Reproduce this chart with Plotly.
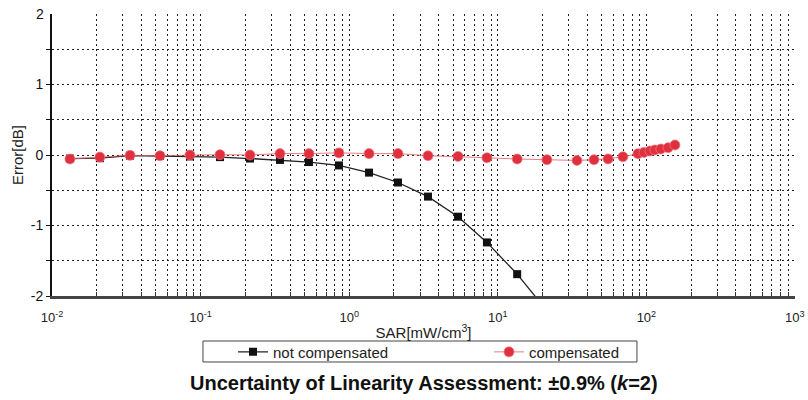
import plotly.graph_objects as go

# SAR levels (mW/cm^3) and linearity error (dB)
sar = [0.0132, 0.021, 0.0335, 0.0533, 0.0848, 0.135, 0.215, 0.342, 0.536, 0.853,
       1.36, 2.13, 3.39, 5.4, 8.45, 13.5, 21.4, 34.1, 44.4, 55.2, 69.5, 87.8,
       96.3, 105.7, 114, 125, 140, 155.6]

err_not_comp = [-0.05, -0.045, -0.01, -0.015, -0.02, -0.03, -0.05, -0.07, -0.1, -0.148,
                -0.25, -0.39, -0.59, -0.875, -1.24, -1.69, -2.21]

err_comp = [-0.057, -0.03, -0.005, -0.01, 0.0, 0.005, 0.0, 0.02, 0.02, 0.03,
            0.02, 0.02, -0.01, -0.02, -0.04, -0.057, -0.067, -0.077, -0.067, -0.055,
            -0.025, 0.019, 0.037, 0.057, 0.071, 0.085, 0.104, 0.142]

decades = [0.01, 0.1, 1, 10, 100]
decade_labels = ["10<sup>-2</sup>", "10<sup>-1</sup>", "10<sup>0</sup>", "10<sup>1</sup>", "10<sup>2</sup>"]
top_decade_label = "10<sup>3</sup>"
y_ticks = [-2, -1.5, -1, -0.5, 0, 0.5, 1, 1.5]
y_labels = ["-2", "", "-1", "", "0", "", "1", ""]
y_top_label = "2"

FONT = "Liberation Sans, Arial, sans-serif"
DOTS = "2px,3px"

# log grid: every integer multiple within each decade
x_grid, x_text = [], []
for d, lab in zip(decades, decade_labels):
    for m in range(1, 10):
        x_grid.append(d * m)
        x_text.append(lab if m == 1 else "")

fig = go.Figure()

fig.add_trace(go.Scatter(
    x=sar[:len(err_not_comp)], y=err_not_comp, mode="lines+markers",
    name="not compensated",
    line=dict(color="#222222", width=1.3),
    marker=dict(symbol="square", size=8, color="#111111"),
))
fig.add_trace(go.Scatter(
    x=sar, y=err_comp, mode="lines+markers",
    name="compensated",
    line=dict(color="rgba(228,90,100,0.8)", width=1),
    marker=dict(symbol="circle", size=10, color="#e0303e",
                line=dict(color="rgba(240,120,130,0.7)", width=1)),
))

fig.update_layout(
    width=808, height=400,
    margin=dict(l=52, r=13, t=14, b=104),
    paper_bgcolor="white", plot_bgcolor="white",
    font=dict(family=FONT, color="#222222", size=12),
    showlegend=True,
    legend=dict(
        orientation="h", x=0.2436, xanchor="left", y=-0.199, yanchor="middle",
        borderwidth=0, bgcolor="rgba(0,0,0,0)",
        font=dict(family=FONT, size=15, color="#222222"),
        entrywidth=211, itemwidth=30,
    ),
    xaxis=dict(
        type="log", range=[-2, 3],
        tickvals=x_grid, ticktext=x_text,
        showgrid=True, gridcolor="#222222", griddash=DOTS, gridwidth=1,
        showline=True, linecolor="#444444", linewidth=2.5,
        ticks="inside", ticklen=4, tickcolor="#333333",
        tickfont=dict(size=13, color="#222222"),
        ticklabelstandoff=8,
        zeroline=False,
        title=dict(text="SAR[mW/cm<sup>3</sup>]", font=dict(size=15), standoff=4),
    ),
    yaxis=dict(
        range=[-2, 2],
        tickvals=y_ticks, ticktext=y_labels,
        showgrid=True, gridcolor="#222222", griddash=DOTS, gridwidth=1,
        showline=True, linecolor="#111111", linewidth=2,
        ticks="outside", ticklen=4, tickcolor="#111111",
        tickfont=dict(size=14, color="#111111"),
        zeroline=False,
        title=dict(text="Error[dB]", font=dict(size=15), standoff=3),
    ),
    shapes=[dict(
        type="rect", xref="paper", yref="paper",
        x0=0.2032, x1=0.7873, y0=-0.234, y1=-0.1596,
        line=dict(color="#444444", width=1), fillcolor="rgba(0,0,0,0)",
    )],
    annotations=[
        dict(text=y_top_label, xref="paper", yref="y", x=0, y=2,
             xanchor="right", yanchor="middle", xshift=-6, showarrow=False,
             font=dict(family=FONT, size=14, color="#111111")),
        dict(text=top_decade_label, xref="paper", yref="paper", x=1, y=0,
             xanchor="center", yanchor="top", yshift=-11, showarrow=False,
             font=dict(family=FONT, size=13, color="#222222")),
        dict(text="<b>Uncertainty of Linearity Assessment: ±0.9% (<i>k</i>=2)</b>",
             xref="paper", yref="paper", x=0.5, y=-0.31, xanchor="center", yanchor="middle",
             showarrow=False, font=dict(family=FONT, size=20, color="#111111")),
    ],
)

fig.write_html("out.html")
